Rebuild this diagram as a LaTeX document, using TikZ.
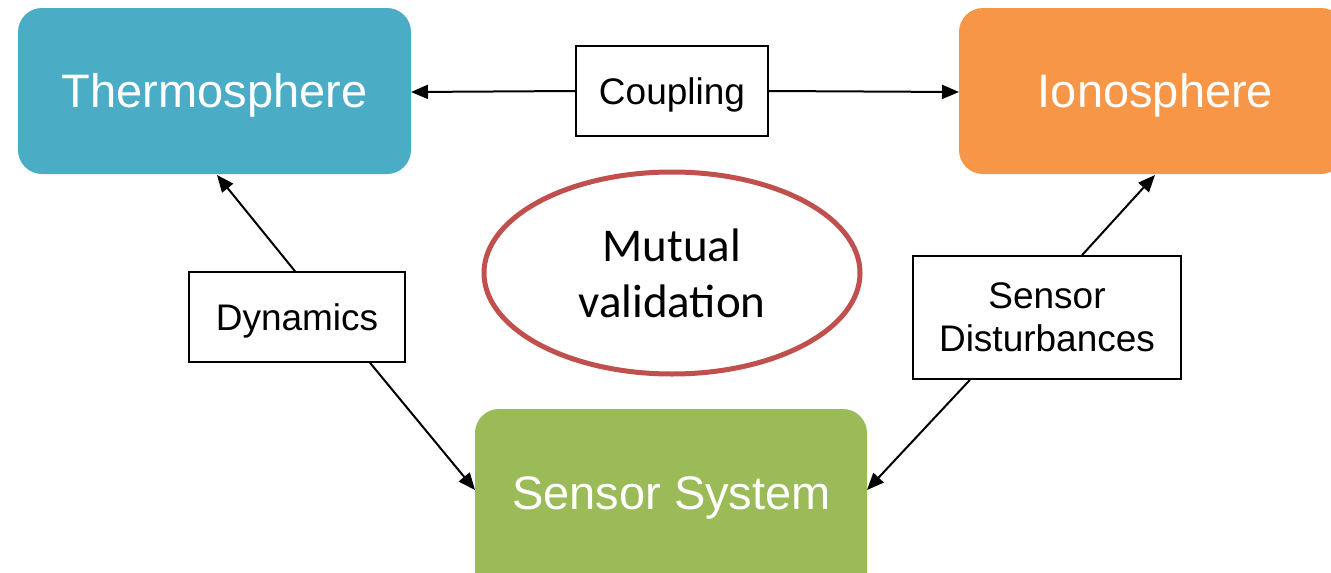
\documentclass[tikz,border=0pt]{standalone}
\usepackage{fontspec}
\setmainfont{Liberation Sans}
\newfontfamily\calib{Carlito}
\usetikzlibrary{arrows.meta,shapes.geometric}
\definecolor{thermo}{HTML}{4BACC6}
\definecolor{iono}{HTML}{F79646}
\definecolor{sens}{HTML}{9BBB59}
\definecolor{ellred}{HTML}{C0504D}
\begin{document}
\begin{tikzpicture}[x=1pt,y=-1pt,
  bigtext/.style={text=white,font=\fontsize{47}{56}\selectfont},
  labbox/.style={draw=black,line width=1.6pt,fill=white,inner sep=0pt,align=center,font=\fontsize{37}{43}\selectfont,text depth=0pt},
  conn/.style={line width=2pt,-{Triangle[length=17pt,width=14pt]}}]
\useasboundingbox (0,0) rectangle (1331,573);
\fill[white] (0,0) rectangle (1331,573);
% big boxes
\fill[thermo,rounded corners=24pt] (18,8) rectangle (411,174);
\node[bigtext] (thermo) at (214.5,95) {Thermosphere};
\coordinate (thermoR) at (411,92);
\coordinate (thermoB) at (217,175);
\fill[iono,rounded corners=24pt] (959,8) rectangle (1345,174);
\node[bigtext] (iono) at (1155.5,95) {Ionosphere};
\coordinate (ionoL) at (959,92);
\coordinate (ionoB) at (1155,175);
\fill[sens,rounded corners=24pt] (475,409) rectangle (867,600);
\node[bigtext] (sens) at (671.5,498) {Sensor System};
\coordinate (sensL) at (475,490);
\coordinate (sensR) at (867,490);
% label boxes
\node[labbox,minimum width=192pt,minimum height=90pt] (coup) at (672,91) {Coupling};
\node[labbox,minimum width=216pt,minimum height=90pt] (dyn) at (297,317) {Dynamics};
\node[labbox,minimum width=268pt,minimum height=123pt] (sd) at (1047,317.5) {Sensor\\Disturbances};
% ellipse
\node[ellipse,draw=ellred,line width=5pt,minimum width=376pt,minimum height=202pt,inner sep=0pt,align=center,
  font=\calib\fontsize{47}{56}\selectfont] (mv) at (672,273) {Mutual\\validation};
% connectors
\draw[conn] (coup.west) -- (thermoR);
\draw[conn] (coup.east) -- (ionoL);
\draw[conn] (dyn.north) ++(-2,0) coordinate (dt) (dt) -- (thermoB);
\draw[conn] (dyn.south) ++(73,0) coordinate (db) (db) -- (sensL);
\draw[conn] (sd.north) ++(35,0) coordinate (st) (st) -- (ionoB);
\draw[conn] (sd.south) ++(-77,0) coordinate (sb) (sb) -- (sensR);
\end{tikzpicture}
\end{document}
